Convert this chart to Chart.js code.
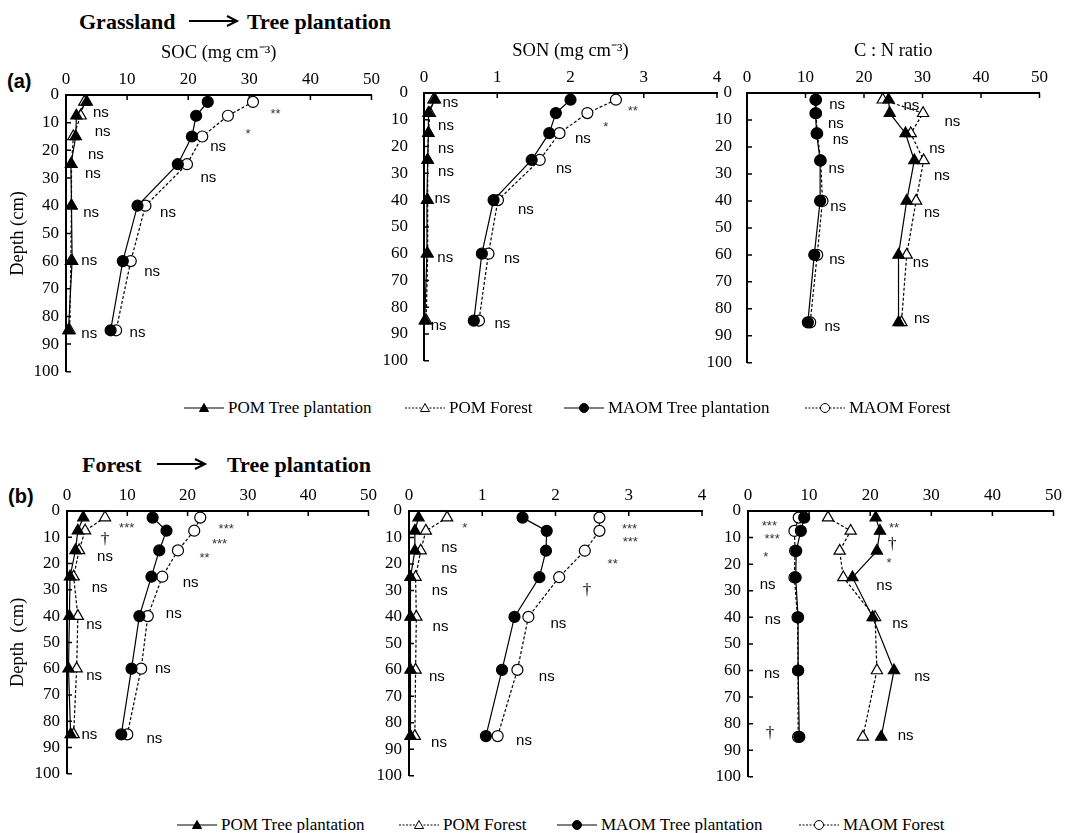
<!DOCTYPE html>
<html>
<head>
<meta charset="utf-8">
<script src="https://cdn.jsdelivr.net/npm/chart.js@4.4.0/dist/chart.umd.min.js"></script>
<style>
  body { margin: 0; width: 1067px; height: 833px; background: #fff; position: relative; overflow: hidden; }
  canvas { position: absolute; }
  .txt { position: absolute; white-space: pre; color: #000; line-height: 1; }
  .row-title { font: bold 22px "Liberation Serif", serif; }
  .tag { font: bold 20px "Liberation Sans", sans-serif; }
  .leg { position: absolute; white-space: nowrap; font: 17px "Liberation Serif", serif; line-height: 1; }
  svg { position: absolute; overflow: visible; }
</style>
</head>
<body>

<div class="txt row-title" style="left:79px; top:9px;">Grassland</div>
<svg style="left:189px; top:14px;" width="50" height="14"><line x1="0" y1="7" x2="46" y2="7" stroke="#000" stroke-width="2"/><path d="M38,2 L48,7 L38,12" fill="none" stroke="#000" stroke-width="2"/></svg>
<div class="txt row-title" style="left:247px; top:9px;">Tree plantation</div>
<div class="txt tag" style="left:7px; top:70px;">(a)</div>

<div class="txt row-title" style="left:82px; top:452px;">Forest</div>
<svg style="left:157px; top:457px;" width="50" height="14"><line x1="0" y1="7" x2="46" y2="7" stroke="#000" stroke-width="2"/><path d="M38,2 L48,7 L38,12" fill="none" stroke="#000" stroke-width="2"/></svg>
<div class="txt row-title" style="left:227px; top:452px;">Tree plantation</div>
<div class="txt tag" style="left:8px; top:485px;">(b)</div>

<canvas id="socA"></canvas>
<canvas id="sonA"></canvas>
<canvas id="cnA"></canvas>
<canvas id="socB"></canvas>
<canvas id="sonB"></canvas>
<canvas id="cnB"></canvas>

<div id="legA"></div>
<div id="legB"></div>

<script>
// Sampling depths (cm), layer midpoints
const depths = [2.5, 7.5, 15, 25, 40, 60, 85];
const seriesNames = ['POM Tree plantation', 'POM Forest', 'MAOM Tree plantation', 'MAOM Forest'];

// (a) Grassland -> Tree plantation
const socA_pomTP  = [3.4, 1.7, 1.6, 0.8, 0.9, 1.0, 0.4];
const socA_pomF   = [3.0, 2.4, 1.2, 0.9, 0.9, 0.8, 0.6];
const socA_maomTP = [23.2, 21.3, 20.6, 18.3, 11.7, 9.3, 7.3];
const socA_maomF  = [30.6, 26.5, 22.3, 19.8, 13.0, 10.6, 8.2];

const sonA_pomTP  = [0.15, 0.06, 0.06, 0.05, 0.04, 0.04, 0.01];
const sonA_pomF   = [0.13, 0.08, 0.06, 0.05, 0.05, 0.05, 0.03];
const sonA_maomTP = [2.0, 1.80, 1.71, 1.47, 0.95, 0.79, 0.68];
const sonA_maomF  = [2.62, 2.23, 1.85, 1.58, 1.01, 0.88, 0.75];

const cnA_pomTP  = [24.2, 24.4, 27.1, 28.6, 27.3, 25.9, 25.9];
const cnA_pomF   = [23.2, 30.1, 28.0, 30.2, 28.9, 27.3, 26.4];
const cnA_maomTP = [11.7, 11.7, 11.9, 12.5, 12.5, 11.5, 10.4];
const cnA_maomF  = [11.8, 11.8, 12.0, 12.6, 12.9, 12.0, 10.8];

// (b) Forest -> Tree plantation
const socB_pomTP  = [2.7, 1.8, 1.4, 0.5, 0.4, 0.25, 0.6];
const socB_pomF   = [6.3, 3.0, 2.0, 1.1, 1.8, 1.6, 1.1];
const socB_maomTP = [14.2, 16.5, 15.3, 14.0, 12.0, 10.7, 9.0];
const socB_maomF  = [22.1, 21.1, 18.4, 15.8, 13.4, 12.3, 10.0];

const sonB_pomTP  = [0.13, 0.08, 0.08, 0.02, 0.02, 0.02, 0.02];
const sonB_pomF   = [0.52, 0.23, 0.16, 0.09, 0.10, 0.09, 0.08];
const sonB_maomTP = [1.55, 1.88, 1.87, 1.78, 1.44, 1.27, 1.05];
const sonB_maomF  = [2.60, 2.60, 2.40, 2.05, 1.63, 1.48, 1.21];

const cnB_pomTP  = [20.9, 21.6, 21.1, 17.1, 20.4, 23.9, 21.8];
const cnB_pomF   = [13.1, 16.8, 15.0, 15.6, 20.8, 21.1, 18.8];
const cnB_maomTP = [9.2, 8.65, 7.9, 7.8, 8.2, 8.2, 8.4];
const cnB_maomF  = [8.3, 7.6, 7.7, 7.6, 8.1, 8.2, 8.2];

// Significance labels: [x value, depth, text]
const notesSocA = [
  [5.7, 6.6, 'ns'], [6.0, 13.3, 'ns'], [4.9, 21.6, 'ns'], [4.4, 28.6, 'ns'], [4.1, 42.7, 'ns'], [3.8, 60, 'ns'], [3.8, 86.2, 'ns'],
  [34.3, 6.1, '**'], [29.8, 13.1, '*'], [24.9, 18.6, 'ns'], [23.3, 29.8, 'ns'], [16.7, 42.7, 'ns'], [14.1, 63.8, 'ns'], [11.7, 85.9, 'ns']
];
const notesSonA = [
  [0.36, 3.6, 'ns'], [0.30, 12.4, 'ns'], [0.30, 20.7, 'ns'], [0.30, 29.5, 'ns'], [0.25, 39.5, 'ns'], [0.29, 61.4, 'ns'], [0.20, 87.1, 'ns'],
  [2.85, 5.6, '**'], [2.48, 11.6, '*'], [2.17, 17.2, 'ns'], [1.91, 28.3, 'ns'], [1.39, 43.6, 'ns'], [1.20, 62.1, 'ns'], [1.07, 86.1, 'ns']
];
const notesCnA = [
  [15.4, 4.4, 'ns'], [15.2, 11.4, 'ns'], [16.0, 17.5, 'ns'], [15.3, 28.0, 'ns'], [15.6, 42.2, 'ns'], [15.4, 61.8, 'ns'], [14.6, 86.5, 'ns'],
  [28.1, 4.7, 'ns'], [35.1, 10.6, 'ns'], [32.5, 20.7, 'ns'], [33.3, 30.8, 'ns'], [31.6, 44.3, 'ns'], [29.7, 63.0, 'ns'], [29.9, 83.6, 'ns']
];
const notesSocB = [
  [9.9, 5.3, '***'], [6.3, 10.9, '†'], [6.3, 17.3, 'ns'], [5.4, 29.1, 'ns'], [4.5, 43.2, 'ns'], [4.5, 62.7, 'ns'], [3.7, 85.2, 'ns'],
  [26.4, 5.7, '***'], [25.3, 11.5, '***'], [22.8, 17.0, '**'], [20.5, 27.3, 'ns'], [17.7, 39.3, 'ns'], [15.9, 60.0, 'ns'], [14.5, 86.8, 'ns']
];
const notesSonB = [
  [0.76, 5.5, '*'], [0.55, 14.1, 'ns'], [0.55, 21.7, 'ns'], [0.42, 30.3, 'ns'], [0.43, 43.8, 'ns'], [0.38, 62.8, 'ns'], [0.41, 87.6, 'ns'],
  [3.01, 5.8, '***'], [3.02, 10.9, '***'], [2.78, 19.0, '**'], [2.43, 29.9, '†'], [2.04, 42.5, 'ns'], [1.88, 62.8, 'ns'], [1.57, 86.9, 'ns']
];
const notesCnB = [
  [3.5, 4.7, '***'], [3.95, 9.6, '***'], [2.9, 16.3, '*'], [3.2, 27.7, 'ns'], [4.05, 41.1, 'ns'], [3.9, 61.1, 'ns'], [3.6, 83.8, '†'],
  [23.9, 5.3, '**'], [23.6, 12.6, '†'], [23.1, 18.5, '*'], [22.3, 28.3, 'ns'], [24.9, 42.6, 'ns'], [28.5, 62.3, 'ns'], [25.8, 84.7, 'ns']
];

Chart.defaults.font.family = '"Liberation Serif", serif';
Chart.defaults.color = '#000';

// One line series: solid/dashed, filled/open marker
function series(label, values, filled, dashed, shape) {
  return {
    label: label,
    data: values.map((v, i) => ({ x: v, y: depths[i] })),
    showLine: true,
    borderColor: '#000',
    borderWidth: 1.2,
    borderDash: dashed ? [3, 2] : [],
    pointStyle: shape,
    pointRadius: shape === 'triangle' ? 6.5 : 5.5,
    pointBackgroundColor: filled ? '#000' : '#fff',
    pointBorderColor: '#000',
    pointBorderWidth: 1.2,
    clip: false
  };
}

// Short tick marks pointing into the plot
const inwardTicks = {
  id: 'inwardTicks',
  beforeDatasetsDraw(chart) {
    const { ctx, chartArea, scales: { x, y } } = chart;
    ctx.save();
    ctx.strokeStyle = '#000';
    ctx.lineWidth = 1.5;
    ctx.beginPath();
    x.ticks.forEach(t => {
      const px = x.getPixelForValue(t.value);
      ctx.moveTo(px, chartArea.top);
      ctx.lineTo(px, chartArea.top + 5);
    });
    y.ticks.forEach(t => {
      const py = y.getPixelForValue(t.value);
      ctx.moveTo(chartArea.left, py);
      ctx.lineTo(chartArea.left + 5, py);
    });
    ctx.stroke();
    ctx.restore();
  }
};

// Significance text placed on the data scales
function notesPlugin(notes) {
  return {
    id: 'notes',
    afterDatasetsDraw(chart) {
      const { ctx, scales: { x, y } } = chart;
      ctx.save();
      ctx.textAlign = 'center';
      ctx.textBaseline = 'middle';
      notes.forEach(([nx, nd, text]) => {
        const px = x.getPixelForValue(nx);
        let py = y.getPixelForValue(nd);
        if (text[0] === '*') {
          ctx.font = '13px "Liberation Sans", sans-serif';
          ctx.fillStyle = '#333';
          py += 3;
        } else if (text === '†') {
          ctx.font = '17px "Liberation Serif", serif';
          ctx.fillStyle = '#000';
        } else {
          ctx.font = '15px "Liberation Sans", sans-serif';
          ctx.fillStyle = '#000';
        }
        ctx.fillText(text, px, py);
      });
      ctx.restore();
    }
  };
}

function buildPanel(p) {
  const canvas = document.getElementById(p.id);
  canvas.width = p.R - p.L + p.yw + 10;
  canvas.height = p.B - p.T + p.xh + 10;
  canvas.style.left = (p.L - p.yw) + 'px';
  canvas.style.top = (p.T - p.xh) + 'px';

  const datasets = [
    series(seriesNames[0], p.values[0], true, false, 'triangle'),
    series(seriesNames[1], p.values[1], false, true, 'triangle'),
    series(seriesNames[2], p.values[2], true, false, 'circle'),
    series(seriesNames[3], p.values[3], false, true, 'circle')
  ];

  new Chart(canvas, {
    type: 'scatter',
    data: { datasets: datasets },
    options: {
      responsive: false,
      animation: false,
      events: [],
      layout: { padding: { left: 0, top: 0, right: 10, bottom: 10 } },
      plugins: { legend: { display: false }, tooltip: { enabled: false } },
      scales: {
        x: {
          type: 'linear',
          position: 'top',
          min: 0,
          max: p.xMax,
          afterFit: s => { s.height = p.xh; },
          ticks: { stepSize: p.xStep, color: '#000', font: { size: 17 }, padding: 5, maxRotation: 0 },
          grid: { display: false, drawTicks: false },
          border: { display: true, color: '#000', width: 2 },
          title: { display: !!p.xTitle, text: p.xTitle || '', color: '#000', font: { size: 18.5 }, padding: { top: 7, bottom: 0 } }
        },
        y: {
          type: 'linear',
          reverse: true,
          min: 0,
          max: 100,
          afterFit: s => { s.width = p.yw; },
          ticks: { stepSize: 10, color: '#000', font: { size: 17 }, padding: p.yPad },
          grid: { display: false, drawTicks: false },
          border: { display: true, color: '#000', width: 2 },
          title: { display: !!p.yTitle, text: p.yTitle || '', color: '#000', font: { size: 18.5 }, padding: { top: 7, bottom: 0 } }
        }
      }
    },
    plugins: [inwardTicks, notesPlugin(p.notes)]
  });
}

const panelDefs = [
  { id: 'socA', L: 66, T: 95, R: 375, B: 379, yw: 66, xh: 60, yPad: 7, xMax: 50, xStep: 10,
    xTitle: 'SOC (mg cm⁻³)', yTitle: 'Depth (cm)', values: [socA_pomTP, socA_pomF, socA_maomTP, socA_maomF], notes: notesSocA },
  { id: 'sonA', L: 424, T: 93, R: 717, B: 377, yw: 45, xh: 60, yPad: 16, xMax: 4, xStep: 1,
    xTitle: 'SON (mg cm⁻³)', values: [sonA_pomTP, sonA_pomF, sonA_maomTP, sonA_maomF], notes: notesSonA },
  { id: 'cnA', L: 747, T: 93, R: 1043, B: 378, yw: 45, xh: 60, yPad: 15, xMax: 50, xStep: 10,
    xTitle: 'C : N ratio', values: [cnA_pomTP, cnA_pomF, cnA_maomTP, cnA_maomF], notes: notesCnA },
  { id: 'socB', L: 67, T: 511, R: 372, B: 781, yw: 67, xh: 40, yPad: 7, xMax: 50, xStep: 10,
    yTitle: 'Depth  (cm)', values: [socB_pomTP, socB_pomF, socB_maomTP, socB_maomF], notes: notesSocB },
  { id: 'sonB', L: 409, T: 511, R: 702, B: 783, yw: 45, xh: 40, yPad: 7, xMax: 4, xStep: 1,
    values: [sonB_pomTP, sonB_pomF, sonB_maomTP, sonB_maomF], notes: notesSonB },
  { id: 'cnB', L: 748, T: 511, R: 1057, B: 784, yw: 45, xh: 40, yPad: 7, xMax: 50, xStep: 10,
    values: [cnB_pomTP, cnB_pomF, cnB_maomTP, cnB_maomF], notes: notesCnB }
];

panelDefs.forEach(buildPanel);

// Legend rows under each set of panels
function markerSvg(shape, filled, dashed) {
  const dash = dashed ? ' stroke-dasharray="2,1.5"' : '';
  const fill = filled ? '#000' : '#fff';
  const mark = shape === 'triangle'
    ? `<path d="M20,2.5 L24.5,10.5 L15.5,10.5 Z" fill="${fill}" stroke="#000" stroke-width="1"/>`
    : `<circle cx="20" cy="7" r="4.5" fill="${fill}" stroke="#000" stroke-width="1"/>`;
  return `<line x1="0" y1="7" x2="40" y2="7" stroke="#000" stroke-width="1.2"${dash}/>` + mark;
}

function buildLegend(hostId, y, lefts) {
  const host = document.getElementById(hostId);
  const styles = [['triangle', true, false], ['triangle', false, true], ['circle', true, false], ['circle', false, true]];
  let html = '';
  seriesNames.forEach((name, i) => {
    const [shape, filled, dashed] = styles[i];
    html += `<svg style="left:${lefts[i]}px; top:${y - 7}px;" width="40" height="14">${markerSvg(shape, filled, dashed)}</svg>`;
    html += `<div class="leg" style="left:${lefts[i] + 44}px; top:${y - 9}px;">${name}</div>`;
  });
  host.innerHTML = html;
}

buildLegend('legA', 408, [184, 405, 564, 805]);
buildLegend('legB', 825, [177, 399, 557, 799]);
</script>
</body>
</html>
